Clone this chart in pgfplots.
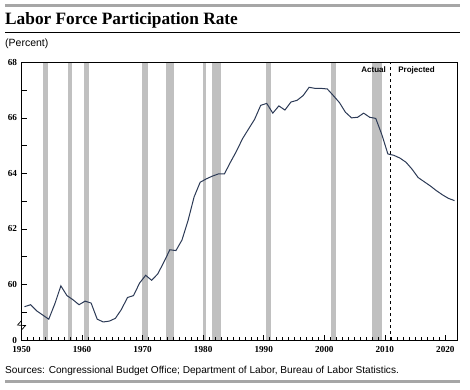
\documentclass[border=0pt]{standalone}
\usepackage{pgfplots}
\pgfplotsset{compat=1.18}
\usepackage{fontspec}
\setmainfont{Liberation Serif}
\newfontfamily\sansf{Liberation Sans}
\definecolor{recgray}{HTML}{C0C0C0}
\definecolor{rulegray}{HTML}{A6A6A6}
\definecolor{linecol}{HTML}{2C3A56}
\pgfplotstableread{
x y
1950.5 59.20
1951.5 59.27
1952.5 59.05
1953.5 58.90
1954.5 58.75
1955.5 59.30
1956.5 59.95
1957.5 59.60
1958.5 59.45
1959.5 59.27
1960.5 59.40
1961.5 59.33
1962.5 58.75
1963.5 58.65
1964.5 58.68
1965.5 58.78
1966.5 59.10
1967.5 59.53
1968.5 59.60
1969.5 60.05
1970.5 60.33
1971.5 60.15
1972.5 60.38
1973.5 60.80
1974.5 61.25
1975.5 61.22
1976.5 61.60
1977.5 62.30
1978.5 63.15
1979.5 63.68
1980.5 63.80
1981.5 63.90
1982.5 63.98
1983.5 63.98
1984.5 64.40
1985.5 64.80
1986.5 65.25
1987.5 65.60
1988.5 65.95
1989.5 66.45
1990.5 66.52
1991.5 66.17
1992.5 66.43
1993.5 66.28
1994.5 66.57
1995.5 66.63
1996.5 66.80
1997.5 67.10
1998.5 67.06
1999.5 67.06
2000.5 67.04
2001.5 66.80
2002.5 66.55
2003.5 66.20
2004.5 66.00
2005.5 66.02
2006.5 66.17
2007.5 66.02
2008.5 65.98
2009.5 65.40
2010.5 64.70
2011.5 64.65
2012.5 64.55
2013.5 64.40
2014.5 64.15
2015.5 63.85
2016.5 63.70
2017.5 63.55
2018.5 63.38
2019.5 63.23
2020.5 63.10
2021.5 63.02
}\lfpr
\begin{document}
\begin{tikzpicture}[x=1pt,y=1pt]
\path[use as bounding box] (0,0) rectangle (470,389);
% rules and titles
\draw[rulegray, line width=3.3pt] (5,383.5) -- (460,383.5);
\node[anchor=base west, inner sep=0pt, font=\bfseries\fontsize{17.3}{19}\selectfont] at (5,364) {Labor Force Participation Rate};
\draw[black, line width=0.8pt] (5,356.7) -- (460,356.7);
\node[anchor=base west, inner sep=0pt, font=\sansf\fontsize{10.5}{12}\selectfont] at (5,342) {(Percent)};
\node[anchor=base west, inner sep=0pt, font=\sansf\fontsize{10.1}{12}\selectfont] at (5,16) {Sources: Congressional Budget Office; Department of Labor, Bureau of Labor Statistics.};
\draw[rulegray, line width=3pt] (5,8) -- (460,8);
\begin{axis}[
  at={(21.5pt,49pt)}, anchor=south west,
  scale only axis, width=436pt, height=277.7pt,
  xmin=1950, xmax=2022, ymin=58, ymax=68,
  xtick={1950,1960,...,2020},
  minor x tick num=9,
  ytick={58,59,...,68},
  yticklabels={0,,60,,62,,64,,66,,68},
  tick align=inside, xtick pos=bottom, ytick pos=left,
  major tick length=5.3pt, minor tick length=3.3pt,
  tick style={black, line width=0.6pt},
  axis line style={black, line width=0.8pt},
  /pgf/number format/1000 sep={},
  /pgf/number format/assume math mode=true,
  ticklabel style={font=\bfseries\fontsize{9.2}{10}\selectfont},
  xticklabel style={yshift=-3pt},
  yticklabel style={xshift=-1pt},
  clip=false,
  axis on top,
]
\foreach \a/\b in {1953.5/1954.4, 1957.6/1958.4, 1960.3/1961.2, 1969.9/1970.95, 1973.8/1975.2, 1980.0/1980.5, 1981.5/1982.95, 1990.4/1991.2, 2001.1/2001.9, 2007.8/2009.5}{
  \edef\temp{\noexpand\addplot[fill=recgray, draw=none] coordinates {(\a,58) (\b,58) (\b,68) (\a,68)} -- cycle;}
  \temp
}
\draw[black, dashed, line width=0.7pt] (axis cs:2010.9,58) -- (axis cs:2010.9,68);
\addplot[linecol, line width=1pt, mark=none] table[x=x,y=y] {\lfpr};
\node[anchor=base east, inner sep=0pt, font=\sansf\bfseries\fontsize{8}{9}\selectfont] at (axis cs:2010.2,67.62) {Actual};
\node[anchor=base west, inner sep=0pt, font=\sansf\bfseries\fontsize{8}{9}\selectfont] at (axis cs:2012.2,67.62) {Projected};
% axis break
\fill[white] ([xshift=-1pt]axis cs:1950,58.36) rectangle ([xshift=1pt]axis cs:1950,58.70);
\draw[black, line width=0.7pt] (axis cs:1950,58.70) -- ++(-4pt,-4.5pt) -- ++(8pt,-0.5pt) -- ++(-4pt,-4.4pt);
\end{axis}
\end{tikzpicture}
\end{document}
